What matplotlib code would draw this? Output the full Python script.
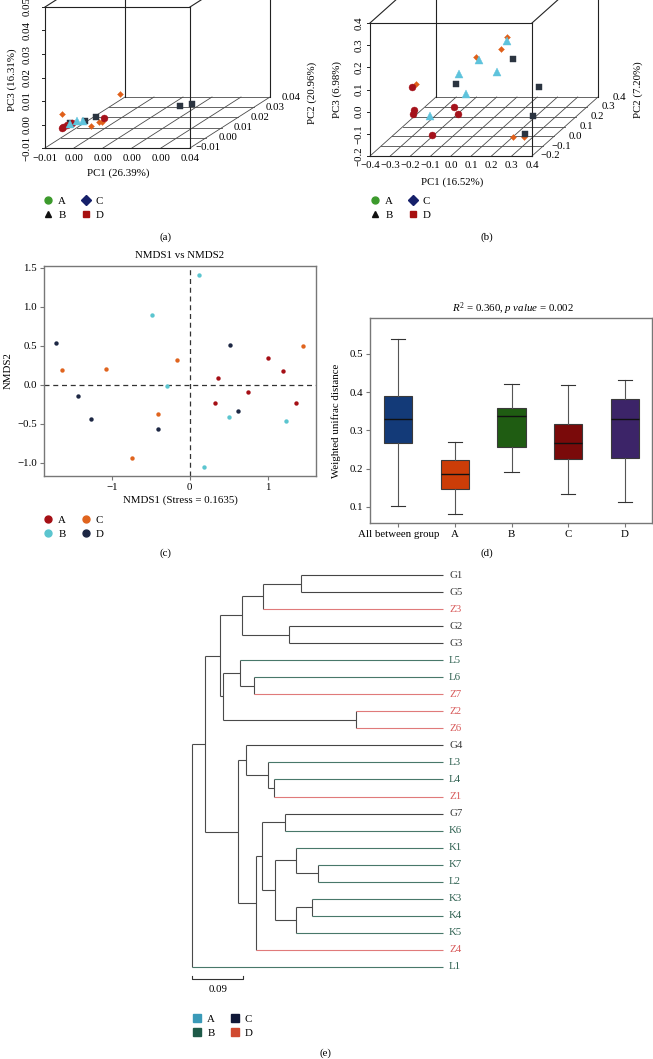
import numpy as np
import matplotlib
matplotlib.use("Agg")
import matplotlib.pyplot as plt
from matplotlib.lines import Line2D

plt.rcParams['font.family'] = ['Liberation Serif', 'DejaVu Serif']
plt.rcParams['mathtext.fontset'] = 'custom'
plt.rcParams['mathtext.rm'] = 'Liberation Serif'
plt.rcParams['mathtext.it'] = 'Liberation Serif:italic'
plt.rcParams['font.size'] = 7.8
FS = 7.8
MINUS = '\u2212'

# ---------------------------------------------------------------- data
# (a) PCoA 3D (unweighted)
a_pc1_ticks = [-0.01, 0.00, 0.01, 0.02, 0.03, 0.04]
a_pc1_ticklabels = [MINUS + '0.01', '0.00', '0.00', '0.00', '0.00', '0.04']
a_pc2_ticks = [-0.01, 0.00, 0.01, 0.02, 0.03, 0.04]
a_pc2_ticklabels = [MINUS + '0.01', '0.00', '0.01', '0.02', '0.03', '0.04']
a_pc3_ticks = [-0.01, 0.00, 0.01, 0.02, 0.03, 0.04, 0.05]
a_pc3_ticklabels = [MINUS + '0.01', '0.00', '0.01', '0.02', '0.03', '0.04', '0.05']
a_A_pc1 = [0.0021, -0.0052, -0.0060, -0.0052, -0.0040]
a_A_pc2 = [0.005, -0.008, -0.006, -0.005, -0.004]
a_A_pc3 = [-0.0037, -0.0023, -0.0028, -0.0024, -0.0020]
a_B_pc1 = [-0.0034, -0.0024, -0.0036]
a_B_pc2 = [-0.002, 0.000, -0.006]
a_B_pc3 = [-0.0020, -0.0029, -0.0015]
a_C_pc1 = [-0.0007, -0.0041, 0.0031, 0.0030, 0.0026]
a_C_pc2 = [0.020, -0.010, 0.000, 0.002, -0.004]
a_C_pc3 = [0.0000, 0.0045, -0.0033, -0.0041, -0.0032]
a_D_pc1 = [0.0172, 0.0186, -0.0007, -0.0017, -0.0041]
a_D_pc2 = [0.025, 0.030, 0.005, 0.000, -0.005]
a_D_pc3 = [-0.0073, -0.0086, -0.0033, -0.0029, -0.0015]

# (b) PCoA 3D (weighted)
b_pc1_ticks = [-0.4, -0.3, -0.2, -0.1, 0.0, 0.1, 0.2, 0.3, 0.4]
b_pc2_ticks = [-0.2, -0.1, 0.0, 0.1, 0.2, 0.3, 0.4]
b_pc3_ticks = [-0.2, -0.1, 0.0, 0.1, 0.2, 0.3, 0.4]
b_A_pc1 = [-0.247, -0.237, -0.231, -0.094, -0.074, -0.148]
b_A_pc2 = [-0.10, -0.10, -0.12, 0.00, 0.00, -0.10]
b_A_pc3 = [0.067, -0.037, -0.046, -0.068, -0.100, -0.150]
b_B_pc1 = [0.114, 0.030, -0.069, 0.064, -0.143, -0.158]
b_B_pc2 = [0.10, 0.00, 0.00, 0.10, 0.20, -0.10]
b_B_pc3 = [0.186, 0.144, 0.081, 0.046, -0.098, -0.064]
b_C_pc1 = [0.114, 0.084, 0.015, -0.227, 0.225, 0.279]
b_C_pc2 = [0.10, 0.10, 0.00, -0.10, -0.05, -0.05]
b_C_pc3 = [0.204, 0.150, 0.158, 0.081, -0.181, -0.181]
b_D_pc1 = [0.089, -0.138, 0.163, 0.188, 0.257]
b_D_pc2 = [0.20, 0.10, 0.30, 0.20, 0.00]
b_D_pc3 = [0.060, -0.008, -0.111, -0.197, -0.190]

# (c) NMDS
c_A_x = [0.36, 1.00, 1.20, 0.75, 0.33, 1.36]
c_A_y = [0.09, 0.34, 0.17, -0.10, -0.24, -0.24]
c_B_x = [0.12, -0.48, -0.29, 0.50, 1.23, 0.18]
c_B_y = [1.41, 0.89, -0.02, -0.42, -0.46, -1.05]
c_C_x = [-1.64, -1.08, -0.16, -0.41, -0.74, 1.45]
c_C_y = [0.19, 0.20, 0.32, -0.38, -0.94, 0.49]
c_D_x = [-1.72, -1.43, -1.27, -0.41, 0.52, 0.62]
c_D_y = [0.53, -0.14, -0.44, -0.57, 0.51, -0.34]

# (d) boxplot of weighted unifrac distance
d_groups = ['All between group', 'A', 'B', 'C', 'D']
d_whislo = [0.103, 0.081, 0.192, 0.134, 0.112]
d_q1 = [0.266, 0.148, 0.258, 0.225, 0.227]
d_med = [0.329, 0.185, 0.339, 0.268, 0.331]
d_q3 = [0.390, 0.223, 0.358, 0.317, 0.382]
d_whishi = [0.538, 0.270, 0.421, 0.418, 0.432]

# (e) UPGMA tree
tree_leaves = ['G1', 'G5', 'Z3', 'G2', 'G3', 'L5', 'L6', 'Z7', 'Z2', 'Z6', 'G4', 'L3',
               'L4', 'Z1', 'G7', 'K6', 'K1', 'K7', 'L2', 'K3', 'K4', 'K5', 'Z4', 'L1']
tree_merges = [
    ('n1', 'G1', 'G5', 0.191),
    ('n2', 'n1', 'Z3', 0.125),
    ('n3', 'G2', 'G3', 0.171),
    ('n4', 'n2', 'n3', 0.087),
    ('n5', 'L6', 'Z7', 0.109),
    ('n6', 'L5', 'n5', 0.084),
    ('n7', 'Z2', 'Z6', 0.289),
    ('n8', 'n6', 'n7', 0.054),
    ('n9', 'n4', 'n8', 0.048),
    ('n10', 'L4', 'Z1', 0.145),
    ('n11', 'L3', 'n10', 0.134),
    ('n12', 'G4', 'n11', 0.094),
    ('n13', 'G7', 'K6', 0.164),
    ('n14', 'K7', 'L2', 0.222),
    ('n15', 'K1', 'n14', 0.183),
    ('n16', 'K3', 'K4', 0.212),
    ('n17', 'n16', 'K5', 0.183),
    ('n18', 'n15', 'n17', 0.146),
    ('n19', 'n13', 'n18', 0.123),
    ('n20', 'n19', 'Z4', 0.112),
    ('n21', 'n12', 'n20', 0.081),
    ('n22', 'n9', 'n21', 0.023),
    ('root', 'n22', 'L1', 0.000),
]
tree_leaf_depth = 0.442
tree_scale = 0.09

# ---------------------------------------------------------------- styles
col_red = '#a5121b'
col_sky = '#5ec3dc'
col_org = '#e0601a'
col_dark = '#2b3440'
leg3d = [('A', 'o', '#3c9a2c'), ('B', '^', '#111111'), ('C', 'D', '#16206a'), ('D', 's', '#a81010')]

W, H = 653, 1059
fig = plt.figure(figsize=(W / 100, H / 100), dpi=100)


def px_axes(x0, y0, x1, y1):
    return fig.add_axes([x0 / W, 1 - y1 / H, (x1 - x0) / W, (y1 - y0) / H])


def add_legend(entries, marker_x, row1_y, msize=5, pad=0.45, cs=1.3):
    fs_px = FS * 100 / 72
    handles = [Line2D([], [], ls='none', marker=m, color=c, markersize=msize) for _, m, c in entries]
    labels = [l for l, _, _ in entries]
    x0 = marker_x - fs_px / 2
    fig.legend(handles, labels, loc='upper left', bbox_to_anchor=(x0 / W, 1 - (row1_y - 4) / H),
               ncol=2, frameon=False, borderpad=0, borderaxespad=0, handlelength=1.0,
               handletextpad=pad, columnspacing=cs, labelspacing=0.47, fontsize=FS)


def oblique_panel(ax, xr, yr, zr, ddx, ddy, xt, xtl, yt, ytl, zt, ztl, xlab, ylab, zlab,
                  xlab_uv, ylab_uv, zlab_uv, xtl_v, ztl_u, ytl_off, groups):
    def proj(x, y, z):
        x = np.asarray(x, float); y = np.asarray(y, float); z = np.asarray(z, float)
        w = (y - yr[0]) / (yr[1] - yr[0])
        u = (x - xr[0]) / (xr[1] - xr[0]) + w * ddx
        v = (z - zr[0]) / (zr[1] - zr[0]) + w * ddy
        return u, v

    def seg(p, q, **kw):
        u, v = proj([p[0], q[0]], [p[1], q[1]], [p[2], q[2]])
        ax.plot(u, v, **kw)

    gk = dict(color='#4a4a4a', lw=0.6, zorder=1)
    for t in xt:
        seg((t, yr[0], zr[0]), (t, yr[1], zr[0]), **gk)
    for t in yt:
        seg((xr[0], t, zr[0]), (xr[1], t, zr[0]), **gk)
    bk = dict(color='#222222', lw=0.8, zorder=1)
    x0, x1 = xr; y0, y1 = yr; z0, z1 = zr
    for p, q in [((x0, y0, z0), (x1, y0, z0)), ((x1, y0, z0), (x1, y0, z1)),
                 ((x1, y0, z1), (x0, y0, z1)), ((x0, y0, z1), (x0, y0, z0)),
                 ((x0, y1, z0), (x0, y1, z1)), ((x1, y1, z0), (x1, y1, z1)),
                 ((x0, y0, z1), (x0, y1, z1)), ((x1, y0, z1), (x1, y1, z1)),
                 ((x0, y1, z1), (x1, y1, z1))]:
        seg(p, q, **bk)
    for t, lab in zip(zt, ztl):
        u, v = proj(x0, y0, t)
        ax.plot([u - 0.02, u], [v, v], color='#222222', lw=0.7)
        ax.text(ztl_u, v, lab, rotation=90, ha='center', va='center', fontsize=FS)
    for t, lab in zip(xt, xtl):
        u, v = proj(t, y0, z0)
        ax.text(u, xtl_v, lab, ha='center', va='center', fontsize=FS)
    for t, lab in zip(yt, ytl):
        u, v = proj(x1, t, z0)
        ax.text(u + ytl_off, v, lab, ha='right', va='center', fontsize=FS)
    ax.text(*xlab_uv, xlab, ha='center', va='center', fontsize=FS)
    ax.text(*ylab_uv, ylab, rotation=90, ha='center', va='center', fontsize=FS)
    ax.text(*zlab_uv, zlab, rotation=90, ha='center', va='center', fontsize=FS)
    for (px, py, pz, mk, col, ms) in groups:
        u, v = proj(px, py, pz)
        ax.plot(u, v, ls='none', marker=mk, color=col, markersize=ms,
                markeredgewidth=0.3, markeredgecolor=col, zorder=3)
    ax.set_axis_off()


# ---------------------------------------------------------------- (a)
axa = px_axes(0, 0, 326, 195)
axa.set_xlim((0 - 45) / 145, (326 - 45) / 145)
axa.set_ylim((148 - 195) / 141, 148 / 141)
oblique_panel(axa, (-0.01, 0.04), (-0.01, 0.04), (-0.01, 0.05), 80 / 145, 51 / 141,
              a_pc1_ticks, a_pc1_ticklabels, a_pc2_ticks, a_pc2_ticklabels,
              a_pc3_ticks, a_pc3_ticklabels,
              'PC1 (26.39%)', 'PC2 (20.96%)', 'PC3 (16.31%)',
              (0.503, -0.177), (1.841, 0.39), (-0.228, 0.482), -0.075, -0.124, 0.214,
              [(a_C_pc1, a_C_pc2, a_C_pc3, 'D', col_org, 3),
               (a_D_pc1, a_D_pc2, a_D_pc3, 's', col_dark, 4.5),
               (a_A_pc1, a_A_pc2, a_A_pc3, 'o', col_red, 5),
               (a_B_pc1, a_B_pc2, a_B_pc3, '^', col_sky, 5.5)])

# ---------------------------------------------------------------- (b)
axb = px_axes(326, 0, 653, 195)
axb.set_xlim((326 - 370) / 162, (653 - 370) / 162)
axb.set_ylim((156 - 195) / 133, 156 / 133)
fmt = lambda t: ('%.1f' % t).replace('-', MINUS)
oblique_panel(axb, (-0.4, 0.4), (-0.2, 0.4), (-0.2, 0.4), 66 / 162, 59 / 133,
              b_pc1_ticks, [fmt(t) for t in b_pc1_ticks], b_pc2_ticks, [fmt(t) for t in b_pc2_ticks],
              b_pc3_ticks, [fmt(t) for t in b_pc3_ticks],
              'PC1 (16.52%)', 'PC2 (7.20%)', 'PC3 (6.98%)',
              (0.506, -0.195), (1.654, 0.496), (-0.204, 0.496), -0.068, -0.068, 0.173,
              [(b_C_pc1, b_C_pc2, b_C_pc3, 'D', col_org, 3),
               (b_D_pc1, b_D_pc2, b_D_pc3, 's', col_dark, 4.5),
               (b_A_pc1, b_A_pc2, b_A_pc3, 'o', col_red, 5),
               (b_B_pc1, b_B_pc2, b_B_pc3, '^', col_sky, 5.5)])

add_legend(leg3d, 48, 200)
add_legend(leg3d, 375, 200)
fig.text(165 / W, 1 - 237 / H, '(a)', ha='center', va='center', fontsize=FS)
fig.text(487 / W, 1 - 237 / H, '(b)', ha='center', va='center', fontsize=FS)

# ---------------------------------------------------------------- (c)
c_red, c_cyan, c_org, c_navy = '#a50f15', '#5bc5cf', '#e0641e', '#1d2744'
axc = px_axes(44, 266, 316, 476)
for xs, ys, col in [(c_A_x, c_A_y, c_red), (c_B_x, c_B_y, c_cyan),
                    (c_C_x, c_C_y, c_org), (c_D_x, c_D_y, c_navy)]:
    axc.scatter(xs, ys, s=10, color=col, linewidths=0, zorder=3)
axc.axhline(0, color='#333333', lw=0.9, ls=(0, (4, 3)), zorder=1)
axc.axvline(0, color='#333333', lw=0.9, ls=(0, (4, 3)), zorder=1)
axc.set_xlim(-1.87, 1.62)
axc.set_ylim(-1.17, 1.52)
axc.set_xticks([-1, 0, 1])
axc.set_xticklabels([MINUS + '1', '0', '1'])
axc.set_yticks([-1.0, -0.5, 0.0, 0.5, 1.0, 1.5])
axc.set_yticklabels([fmt(t) for t in [-1.0, -0.5, 0.0, 0.5, 1.0, 1.5]])
for s in axc.spines.values():
    s.set_color('#777777'); s.set_linewidth(1.0)
axc.tick_params(direction='out', length=3, color='#777777', labelsize=FS, pad=2)
axc.set_xlabel('NMDS1 (Stress = 0.1635)', fontsize=FS)
axc.xaxis.set_label_coords(0.5, (476 - 495) / 210)
axc.set_ylabel('NMDS2', fontsize=FS)
axc.yaxis.set_label_coords((13 - 44) / 272, 0.5)
axc.text(0.5, 1 + (266 - 256) / 210, 'NMDS1 vs NMDS2', transform=axc.transAxes,
         ha='center', va='center', fontsize=FS)
add_legend([('A', 'o', c_red), ('B', 'o', c_cyan), ('C', 'o', c_org), ('D', 'o', c_navy)],
           48, 519, msize=5)
fig.text(165 / W, 1 - 553 / H, '(c)', ha='center', va='center', fontsize=FS)

# ---------------------------------------------------------------- (d)
d_colors = ['#133a78', '#cc3d08', '#1f5c12', '#7a0a0a', '#3c2468']
axd = px_axes(370, 318, 652, 523)
stats = [dict(label=g, whislo=lo, q1=q1, med=m, q3=q3, whishi=hi, fliers=[])
         for g, lo, q1, m, q3, hi in zip(d_groups, d_whislo, d_q1, d_med, d_q3, d_whishi)]
bp = axd.bxp(stats, positions=range(len(stats)), widths=0.5, capwidths=0.25, patch_artist=True,
             showfliers=False,
             boxprops=dict(edgecolor='#3a3a3a', linewidth=0.8),
             medianprops=dict(color='#111111', linewidth=1.0),
             whiskerprops=dict(color='#555555', linewidth=0.8),
             capprops=dict(color='#333333', linewidth=0.8))
for patch, col in zip(bp['boxes'], d_colors):
    patch.set_facecolor(col)
axd.set_xlim(-0.5, 4.48)
axd.set_ylim(0.058, 0.594)
axd.set_yticks([0.1, 0.2, 0.3, 0.4, 0.5])
axd.set_yticklabels(['0.1', '0.2', '0.3', '0.4', '0.5'])
for s in axd.spines.values():
    s.set_color('#777777'); s.set_linewidth(1.0)
axd.tick_params(direction='out', length=3, color='#777777', labelsize=FS, pad=2)
axd.set_ylabel('Weighted unifrac distance', fontsize=FS)
axd.yaxis.set_label_coords((341 - 370) / 282, 0.5)
axd.text(0.507, 1 + 9 / 205, r'$R^{2}$ = 0.360, $p\ value$ = 0.002', transform=axd.transAxes,
         ha='center', va='center', fontsize=FS)
fig.text(487 / W, 1 - 553 / H, '(d)', ha='center', va='center', fontsize=FS)

# ---------------------------------------------------------------- (e)
axe = px_axes(180, 560, 480, 1000)
axe.set_xlim((180 - 192.3) / 566.7, (480 - 192.3) / 566.7)
axe.set_ylim((1000 - 575) / 17.04, (560 - 575) / 17.04)
axe.set_axis_off()
label_col = {'G': '#3a3a3a', 'L': '#2e6050', 'K': '#2e6050', 'Z': '#d85a5a'}
line_col = {'G': '#454545', 'L': '#48786a', 'K': '#48786a', 'Z': '#e07a7a'}
internal = '#4a4a4a'
ypos = {lf: i for i, lf in enumerate(tree_leaves)}
xpos = {lf: tree_leaf_depth for lf in tree_leaves}
for name, a, b, h in tree_merges:
    ypos[name] = (ypos[a] + ypos[b]) / 2
    xpos[name] = h
    axe.plot([h, h], [ypos[a], ypos[b]], color=internal, lw=0.8, solid_capstyle='butt')
    for c in (a, b):
        col = line_col[c[0]] if c in tree_leaves else internal
        axe.plot([h, xpos[c]], [ypos[c], ypos[c]], color=col, lw=0.8, solid_capstyle='butt')
for lf in tree_leaves:
    axe.text(tree_leaf_depth + 0.011, ypos[lf], lf, color=label_col[lf[0]], ha='left',
             va='center', fontsize=FS)
sb_y = len(tree_leaves) - 0.29
axe.plot([0, 0, tree_scale, tree_scale], [sb_y - 0.2, sb_y, sb_y, sb_y - 0.2], color='#333333', lw=0.8)
axe.text(tree_scale / 2, sb_y + 0.6, '%.2f' % tree_scale, ha='center', va='center', fontsize=FS)
add_legend([('A', 's', '#3a9ab8'), ('B', 's', '#1e5a48'), ('C', 's', '#101838'), ('D', 's', '#d04a30')],
           197, 1018, msize=5.5)
fig.text(325 / W, 1 - 1053 / H, '(e)', ha='center', va='center', fontsize=FS)

fig.savefig('out.png', dpi=100)
